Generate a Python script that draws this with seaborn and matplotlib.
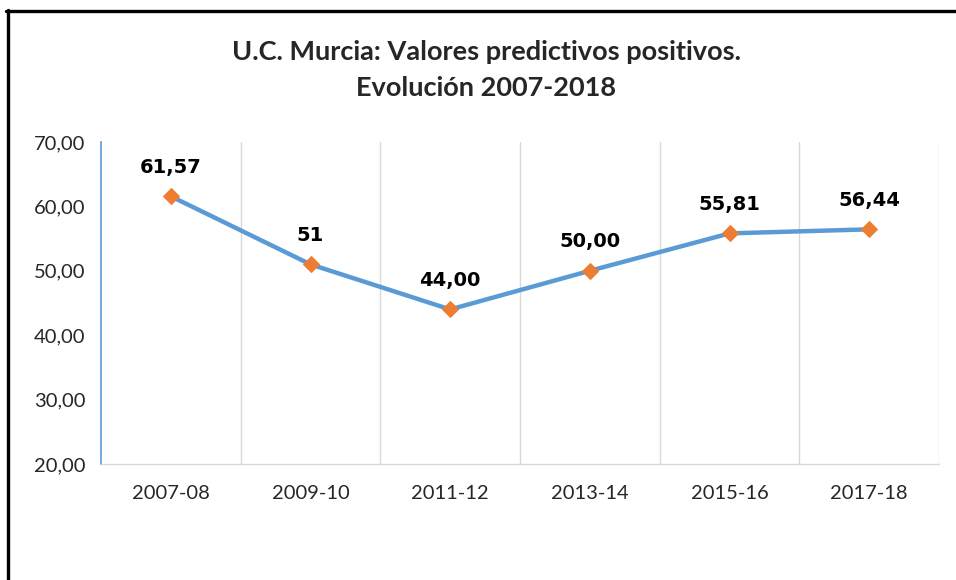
import matplotlib
matplotlib.use("Agg")
import matplotlib.pyplot as plt
from matplotlib.lines import Line2D
import seaborn as sns
import pandas as pd

# Data
periods = ["2007-08", "2009-10", "2011-12", "2013-14", "2015-16", "2017-18"]
vpp = [61.57, 51.0, 44.00, 50.00, 55.81, 56.44]
value_labels = ["61,57", "51", "44,00", "50,00", "55,81", "56,44"]
y_ticks = [20, 30, 40, 50, 60, 70]
y_tick_labels = ["20,00", "30,00", "40,00", "50,00", "60,00", "70,00"]

df = pd.DataFrame({"periodo": periods, "vpp": vpp})
df["pos"] = range(len(periods))

sns.set_style("white")
plt.rcParams["font.family"] = ["Lato", "DejaVu Sans"]

line_blue = "#5B9BD5"
marker_orange = "#ED7D31"
grid_gray = "#D9D9D9"

fig = plt.figure(figsize=(9.56, 5.8), dpi=100)
ax = fig.add_axes([101 / 956, 1 - 464 / 580, (939 - 101) / 956, (464 - 142) / 580])

sns.lineplot(data=df, x="pos", y="vpp", ax=ax, color=line_blue, linewidth=3.2,
             marker="D", markersize=8, markerfacecolor=marker_orange,
             markeredgecolor=marker_orange, zorder=3)

ax.set_xlim(-0.5, len(periods) - 0.5)
ax.set_ylim(20, 70)

# Category boundary gridlines
for b in range(1, len(periods) + 1):
    ax.axvline(b - 0.5, color=grid_gray, linewidth=1, zorder=1)

ax.set_xticks(df["pos"])
ax.set_xticklabels(periods, fontsize=14.5, color="#262626")
ax.tick_params(axis="x", length=0, pad=15)
ax.set_yticks(y_ticks)
ax.set_yticklabels(y_tick_labels, fontsize=14.5, color="#262626")
ax.tick_params(axis="y", length=5, width=1, color=line_blue, direction="out", pad=6)
ax.set_xlabel("")
ax.set_ylabel("")

for side in ["top", "right"]:
    ax.spines[side].set_visible(False)
ax.spines["left"].set_color(line_blue)
ax.spines["left"].set_linewidth(1.2)
ax.spines["bottom"].set_color(grid_gray)
ax.spines["bottom"].set_linewidth(1)

for x, y, lab in zip(df["pos"], vpp, value_labels):
    ax.annotate(lab, (x, y), xytext=(0, 14), textcoords="offset points",
                ha="center", va="bottom", fontsize=14, fontweight="bold",
                family=["DejaVu Sans"], color="#000000")

fig.text(486 / 956, 1 - 52 / 580, "U.C. Murcia: Valores predictivos positivos.",
         ha="center", va="center", fontsize=19.5, fontweight="bold")
fig.text(486 / 956, 1 - 88 / 580, "Evolución 2007-2018",
         ha="center", va="center", fontsize=19.5, fontweight="bold")

# Frame around the chart (left and top edges)
fig.add_artist(Line2D([7.5 / 956, 7.5 / 956], [0, 1 - 10 / 580], color="black",
                      linewidth=2.4, transform=fig.transFigure))
fig.add_artist(Line2D([6 / 956, 1], [1 - 11 / 580, 1 - 11 / 580], color="black",
                      linewidth=2.4, transform=fig.transFigure))

fig.savefig("out.png", dpi=100)
